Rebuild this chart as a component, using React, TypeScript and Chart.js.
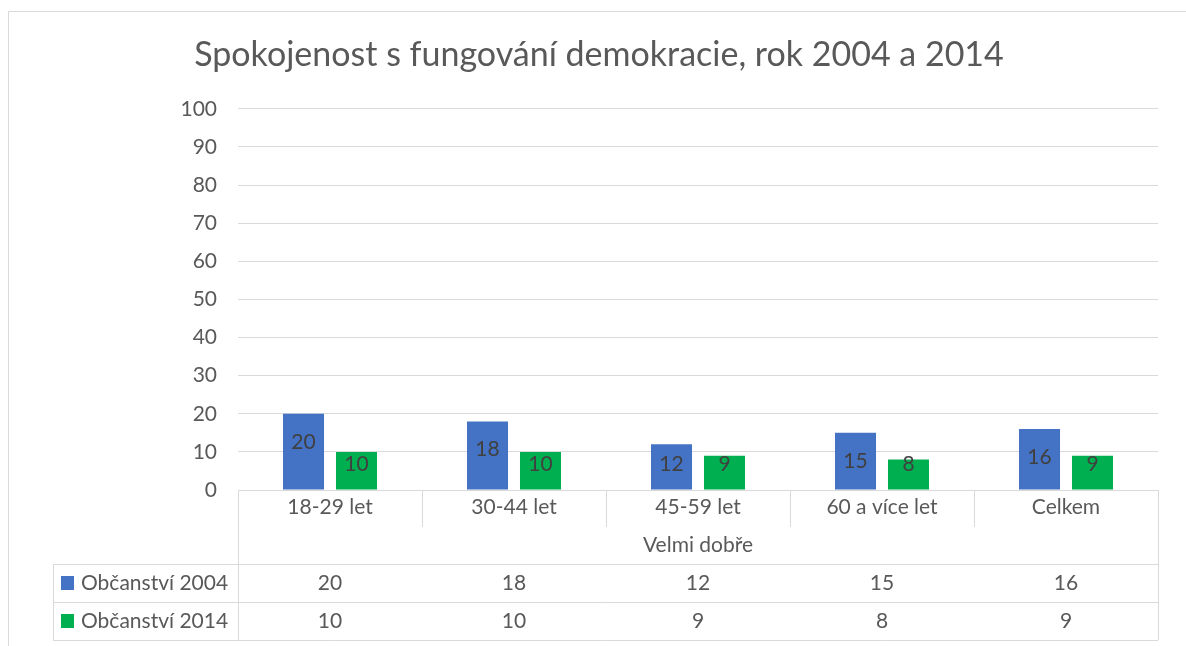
import React, { useEffect, useRef } from "react";
import { Chart, registerables } from "chart.js";

Chart.register(...registerables);

const chartTitle = "Spokojenost s fungování demokracie, rok 2004 a 2014";
const categories = ["18-29 let", "30-44 let", "45-59 let", "60 a více let", "Celkem"];
const groupLabel = "Velmi dobře";
const seriesNames = ["Občanství 2004", "Občanství 2014"];
const values2004 = [20, 18, 12, 15, 16];
const values2014 = [10, 10, 9, 8, 9];
const seriesColors = ["#4472C4", "#00B050"];
const yMin = 0;
const yMax = 100;
const yStep = 10;

const FONT = "Lato, 'Open Sans', sans-serif";
const TEXT = "#595959";
const LINE = "#d9d9d9";

const frameAndTablePlugin = {
  id: "frameAndTable",
  beforeDraw(chart: any) {
    const ctx = chart.ctx;
    ctx.save();
    ctx.strokeStyle = LINE;
    ctx.lineWidth = 1;
    ctx.beginPath();
    ctx.moveTo(8.5, chart.height);
    ctx.lineTo(8.5, 11.5);
    ctx.lineTo(chart.width, 11.5);
    ctx.stroke();
    ctx.restore();
  },
  afterDraw(chart: any) {
    const { ctx, chartArea, scales } = chart;
    const x = scales.x;
    const n = categories.length;
    const cw = (x.right - x.left) / n;
    const top = chartArea.bottom;
    const catRowBottom = top + 37;
    const groupRowBottom = top + 74;
    const rowH = 38;
    const bottom = groupRowBottom + rowH * 2;
    const legendLeft = 53;
    ctx.save();
    ctx.strokeStyle = LINE;
    ctx.lineWidth = 1;
    const line = (x1: number, y1: number, x2: number, y2: number) => {
      ctx.beginPath();
      ctx.moveTo(x1, y1);
      ctx.lineTo(x2, y2);
      ctx.stroke();
    };
    line(x.left, Math.round(top) + 0.5, x.right, Math.round(top) + 0.5);
    for (let i = 0; i <= n; i++) {
      const px = Math.round(x.left + i * cw) + 0.5;
      const edge = i === 0 || i === n;
      line(px, top, px, edge ? bottom : catRowBottom);
    }
    for (let r = 0; r <= 2; r++) {
      const py = groupRowBottom + r * rowH + 0.5;
      line(legendLeft, py, x.right, py);
    }
    line(legendLeft + 0.5, groupRowBottom, legendLeft + 0.5, bottom);

    ctx.font = `21px ${FONT}`;
    ctx.fillStyle = TEXT;
    ctx.textAlign = "center";
    ctx.textBaseline = "middle";
    ctx.fillText(groupLabel, (x.left + x.right) / 2, (catRowBottom + groupRowBottom) / 2);

    chart.data.datasets.forEach((ds: any, r: number) => {
      const cy = groupRowBottom + r * rowH + rowH / 2;
      ctx.fillStyle = TEXT;
      ctx.textAlign = "center";
      ds.data.forEach((v: number, i: number) => {
        ctx.fillText(String(v), x.getPixelForValue(i), cy);
      });
      ctx.fillStyle = ds.backgroundColor;
      ctx.fillRect(61, cy - 7, 13, 14);
      ctx.fillStyle = TEXT;
      ctx.textAlign = "left";
      ctx.fillText(ds.label, 81, cy);
    });
    ctx.restore();
  },
};

const barLabelPlugin = {
  id: "barLabels",
  afterDatasetsDraw(chart: any) {
    const ctx = chart.ctx;
    ctx.save();
    ctx.font = `21px ${FONT}`;
    ctx.fillStyle = "#404040";
    ctx.textAlign = "center";
    ctx.textBaseline = "middle";
    chart.data.datasets.forEach((ds: any, di: number) => {
      const meta = chart.getDatasetMeta(di);
      meta.data.forEach((bar: any, i: number) => {
        const y = Math.min(bar.y + 28, bar.base - 25);
        ctx.fillText(String(ds.data[i]), bar.x, y);
      });
    });
    ctx.restore();
  },
};

export default function App() {
  const ref = useRef<HTMLCanvasElement>(null);
  useEffect(() => {
    if (!ref.current) return;
    const chart = new Chart(ref.current, {
      type: "bar",
      data: {
        labels: categories,
        datasets: [
          { label: seriesNames[0], data: values2004, backgroundColor: seriesColors[0], borderWidth: 0 },
          { label: seriesNames[1], data: values2014, backgroundColor: seriesColors[1], borderWidth: 0 },
        ],
      },
      options: {
        responsive: false,
        animation: false,
        layout: { padding: { left: 40, right: 28, top: 0, bottom: 0 } },
        datasets: { bar: { categoryPercentage: 0.576, barPercentage: 0.774 } },
        plugins: {
          legend: { display: false },
          tooltip: { enabled: false },
          title: {
            display: true,
            text: chartTitle,
            color: TEXT,
            font: { family: FONT, size: 34, weight: "normal" },
            padding: { top: 35, bottom: 33 },
          },
        },
        scales: {
          x: {
            grid: { display: false, drawTicks: false },
            border: { display: false },
            ticks: { color: TEXT, font: { family: FONT, size: 21 }, padding: 5, maxRotation: 0 },
            afterFit: (s: any) => {
              s.height = 156;
            },
          },
          y: {
            min: yMin,
            max: yMax,
            grid: { color: LINE, drawTicks: false },
            border: { display: false },
            ticks: { stepSize: yStep, color: TEXT, font: { family: FONT, size: 21 }, padding: 21 },
            afterFit: (s: any) => {
              s.width = 198;
            },
          },
        },
      },
      plugins: [frameAndTablePlugin, barLabelPlugin],
    } as any);
    return () => chart.destroy();
  }, []);
  return (
    <div style={{ position: "absolute", left: 0, top: 0, width: 1186, height: 646, background: "#fff" }}>
      <canvas ref={ref} width={1186} height={646} style={{ display: "block" }} />
    </div>
  );
}
